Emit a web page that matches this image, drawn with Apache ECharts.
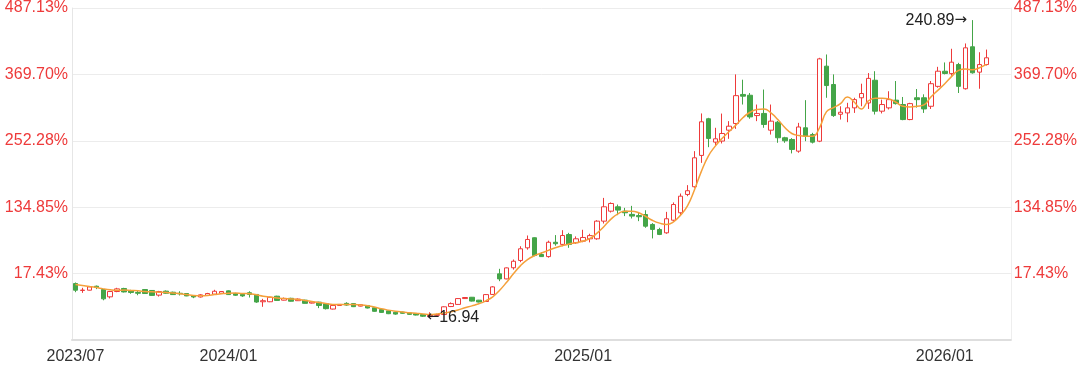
<!DOCTYPE html>
<html>
<head>
<meta charset="utf-8">
<style>
html,body{margin:0;padding:0;background:#fff;}
#c{width:1080px;height:370px;}
</style>
<script src="https://cdn.jsdelivr.net/npm/echarts/dist/echarts.min.js"></script>
</head>
<body>
<div id="c"></div>
<script>
// Weekly candles (date of week)
const categories = [
 '2023/07/28','2023/08/04','2023/08/11','2023/08/18','2023/08/25','2023/09/01','2023/09/08','2023/09/15','2023/09/22','2023/09/28',
 '2023/10/13','2023/10/20','2023/10/27','2023/11/03','2023/11/10','2023/11/17','2023/11/24','2023/12/01','2023/12/08','2023/12/15',
 '2023/12/22','2023/12/29',
 '2024/01/05','2024/01/12','2024/01/19','2024/01/26','2024/02/02','2024/02/08','2024/02/23','2024/03/01','2024/03/08','2024/03/15',
 '2024/03/22','2024/03/29','2024/04/03','2024/04/12','2024/04/19','2024/04/26','2024/04/30','2024/05/10','2024/05/17','2024/05/24',
 '2024/05/31','2024/06/07','2024/06/14','2024/06/21','2024/06/28','2024/07/05','2024/07/12','2024/07/19','2024/07/26','2024/08/02',
 '2024/08/09','2024/08/16','2024/08/23','2024/08/30','2024/09/06','2024/09/13','2024/09/20','2024/09/27','2024/09/30','2024/10/11',
 '2024/10/18','2024/10/25','2024/11/01','2024/11/08','2024/11/15','2024/11/22','2024/11/29','2024/12/06','2024/12/13','2024/12/20',
 '2024/12/27',
 '2025/01/03','2025/01/10','2025/01/17','2025/01/24','2025/01/31','2025/02/07','2025/02/14','2025/02/21','2025/02/28','2025/03/07',
 '2025/03/14','2025/03/21','2025/03/28','2025/04/04','2025/04/11','2025/04/18','2025/04/25','2025/05/02','2025/05/09','2025/05/16',
 '2025/05/23','2025/05/30','2025/06/06','2025/06/13','2025/06/20','2025/06/27','2025/07/04','2025/07/11','2025/07/18','2025/07/25',
 '2025/08/01','2025/08/08','2025/08/15','2025/08/22','2025/08/29','2025/09/05','2025/09/12','2025/09/19','2025/09/26','2025/10/03',
 '2025/10/10','2025/10/17','2025/10/24','2025/10/31','2025/11/07','2025/11/14','2025/11/21','2025/11/28','2025/12/05','2025/12/12',
 '2025/12/19','2025/12/26',
 '2026/01/02','2026/01/09','2026/01/16','2026/01/23','2026/01/30','2026/02/06','2026/02/13',
 '2026/02/20','2026/02/27','2026/03/06'
];
const xLabelIndex = [0, 22, 73, 125];

const opens = [
 42.5,37.3,37.5,40.5,38.0,32.5,36.5,38.8,37.2,35.8, 38.0,37.3,33.8,36.8,36.0,35.2,35.0,33.4,32.4,33.6,
 34.5,35.2,37.0,35.0,34.4,35.6,34.3,28.8,28.8,33.0, 30.0,31.4,29.6,30.0,27.8,28.5,27.3,23.3,26.0,27.6,
 27.4,25.5,26.0,24.3,23.0,22.0,20.9,21.0,20.4,19.9, 19.2,17.6,18.6,19.2,25.2,26.8,31.2,32.2,30.0,29.0,
 34.3,49.8,46.0,54.4,59.9,69.4,77.0,64.4,62.8,73.6, 72.0,79.4,73.2,74.4,76.2,76.2,89.5,97.0,100.3,97.0,
 94.6,93.7,94.5,87.0,83.2,80.7,90.2,95.8,109.6,115.4, 139.0,166.6,149.0,149.8,158.0,163.0,184.9,184.3,169.0,170.6,
 158.0,164.0,152.3,151.0,142.2,159.8,154.7,149.7,206.2,192.4, 170.0,171.0,174.8,182.4,178.5,195.6,172.3,174.8,180.6,177.3,
 166.0,182.4,182.4,176.0,191.0,202.4,200.6,207.4,189.2,220.8, 201.7,207.4
];
const closes = [
 37.5,37.6,40.0,39.6,31.0,36.5,38.5,36.2,35.8,35.2, 35.0,33.6,36.5,35.2,34.2,34.8,33.2,32.4,34.0,35.0,
 36.7,36.5,34.2,33.7,33.2,34.3,28.6,29.6,32.2,29.8, 31.3,29.2,30.8,27.6,28.6,26.0,23.6,26.0,26.8,26.3,
 25.1,26.6,24.1,21.6,20.8,19.8,19.5,20.1,19.3,18.8, 17.9,18.6,19.2,25.0,27.4,31.2,32.0,29.3,28.6,34.2,
 40.0,46.0,54.3,59.3,68.7,75.7,63.6,62.8,73.6,72.5, 78.7,72.0,76.2,77.2,78.6,89.5,100.3,102.8,97.8,95.8,
 93.3,92.8,85.7,83.3,79.5,91.3,102.0,108.3,112.4,137.2, 164.3,151.8,151.5,155.5,161.0,184.0,183.6,168.0,170.6,162.3,
 164.8,152.3,150.0,143.5,160.4,153.5,149.0,211.7,191.6,169.0, 171.5,174.8,181.0,185.6,197.0,172.3,177.3,181.0,178.0,166.0,
 178.0,181.0,174.0,193.0,202.4,200.7,209.2,191.0,220.0,201.2, 207.4,212.5
];
const lows = [
 36.0,35.5,37.3,38.3,29.9,31.3,36.0,35.8,34.8,33.7, 34.8,33.3,32.7,34.8,33.9,33.5,33.0,31.5,32.0,33.3,
 34.3,34.8,34.0,33.2,32.5,32.0,28.0,25.0,28.5,29.5, 29.8,29.0,29.4,27.4,27.5,24.0,23.0,23.0,25.8,25.8,
 24.8,25.3,23.8,21.3,20.5,19.5,19.0,19.8,19.0,18.5, 17.4,16.94,18.2,19.0,24.8,26.5,31.0,29.0,28.3,28.8,
 34.0,44.3,45.8,53.0,58.6,68.0,63.0,62.5,62.0,71.0, 70.6,69.4,72.4,73.6,73.5,75.5,87.7,96.0,94.0,93.3,
 91.5,89.5,84.5,76.5,79.0,80.0,89.5,93.3,108.3,114.6, 133.4,145.2,146.7,148.0,151.5,159.0,177.3,166.6,164.8,159.8,
 154.7,148.5,148.5,140.5,141.0,149.7,148.0,149.0,182.4,168.0, 166.0,164.0,171.0,176.0,174.0,169.8,170.6,173.6,177.3,165.5,
 165.5,175.0,171.0,174.0,190.0,200.0,199.0,186.0,188.6,200.6, 189.2,206.7
];
const highs = [
 43.3,39.3,40.3,41.0,38.3,37.0,39.3,39.3,37.8,37.3, 38.3,37.6,37.0,37.3,36.4,36.7,35.3,33.8,34.5,35.5,
 37.8,36.8,37.3,35.5,35.0,36.7,34.6,31.0,32.5,33.3, 32.0,31.8,31.3,30.3,29.0,28.8,27.8,26.3,27.0,28.4,
 27.7,27.0,26.3,24.6,23.3,22.3,21.2,21.3,20.7,20.2, 19.5,20.9,19.8,25.3,28.3,31.5,32.3,32.4,30.2,34.6,
 40.5,53.6,54.6,60.6,70.6,78.7,77.3,66.0,74.8,79.0, 82.7,80.7,78.0,83.0,80.0,90.2,107.0,103.6,102.0,99.5,
 101.0,95.8,97.7,88.0,84.5,96.5,103.6,110.3,116.6,142.2, 170.6,167.3,159.8,170.5,164.8,200.0,196.0,186.0,177.3,188.6,
 177.3,165.0,153.0,152.0,163.5,180.6,156.0,212.5,215.0,200.0, 176.0,178.6,182.4,193.0,201.0,202.4,181.0,187.3,195.0,183.0,
 178.6,189.0,185.0,195.0,205.7,209.0,219.3,208.7,223.3,240.89, 216.7,218.7
];
const maLine = [
 41.8,41.0,40.3,39.5,38.5,37.8,37.5,37.6,37.3,37.0, 36.6,36.3,36.0,35.7,35.3,34.8,34.2,33.6,33.4,33.6,
 34.2,34.8,35.2,35.3,35.0,34.9,34.0,33.0,32.3,31.6, 31.2,30.9,30.5,29.8,29.0,28.2,27.5,26.8,26.7,26.8,
 26.7,26.4,25.8,24.8,23.5,22.5,21.7,21.1,20.6,20.1, 19.6,19.2,19.6,20.3,21.3,22.6,24.3,25.7,27.3,29.5,
 32.5,37.5,43.5,50.0,56.0,60.5,63.5,65.5,67.5,69.5, 71.0,72.3,73.3,74.5,76.5,80.5,85.5,91.0,95.0,97.0,
 97.0,95.8,93.0,90.0,88.0,87.0,89.0,94.0,101.0,113.0, 127.0,138.5,146.0,152.0,157.0,162.0,167.5,171.5,173.6,174.0,
 171.0,166.0,160.0,155.5,154.0,153.5,153.5,160.0,172.0,175.0, 178.0,183.0,179.0,174.0,180.0,182.0,182.0,181.5,179.0,176.0,
 175.5,176.0,177.0,183.0,188.0,193.0,198.5,203.0,204.0,203.5, 205.0,207.5
];
const yTickLabels = ['', '17.43%', '134.85%', '252.28%', '369.70%', '487.13%'];
const yStep = 50;

const candleData = opens.map((o, i) => [o, closes[i], lows[i], highs[i]]);
let minIdx = 0, maxIdx = 0;
lows.forEach((v, i) => { if (v < lows[minIdx]) minIdx = i; });
highs.forEach((v, i) => { if (v > highs[maxIdx]) maxIdx = i; });

const FONT = '"Liberation Sans", Arial, Helvetica, sans-serif';
const RED = '#ee3a3a';
const GREEN = '#44a548';

const yAxisBase = {
  type: 'value', min: 0, max: yStep * (yTickLabels.length - 1), interval: yStep,
  axisTick: { show: false },
  axisLabel: {
    color: RED, fontSize: 16, fontFamily: FONT,
    formatter: v => yTickLabels[Math.round(v / yStep)] || ''
  }
};

const markRich = {
  arr: { fontFamily: '"DejaVu Sans", sans-serif', fontSize: 15, color: '#222' },
  num: { fontFamily: FONT, fontSize: 16, color: '#222' }
};

const chart = echarts.init(document.getElementById('c'));
chart.setOption({
  animation: false,
  grid: { left: 72, right: 68, top: 8, bottom: 30 },
  xAxis: {
    type: 'category', data: categories, boundaryGap: true,
    axisLine: { lineStyle: { color: '#dedede', width: 2 } },
    axisTick: { show: false },
    splitLine: { show: false },
    axisLabel: {
      interval: (i) => xLabelIndex.includes(i),
      formatter: v => v.slice(0, 7),
      color: '#333', fontSize: 16, fontFamily: FONT, margin: 9
    }
  },
  yAxis: [
    Object.assign({}, yAxisBase, {
      position: 'left',
      axisLine: { show: true, lineStyle: { color: '#e6e6e6' } },
      axisLabel: Object.assign({}, yAxisBase.axisLabel, { margin: 4 }),
      splitLine: { show: true, lineStyle: { color: '#ececec' } }
    }),
    Object.assign({}, yAxisBase, {
      position: 'right',
      axisLine: { show: true, lineStyle: { color: '#eeeeee' } },
      axisLabel: Object.assign({}, yAxisBase.axisLabel, { margin: 3 }),
      splitLine: { show: false }
    })
  ],
  series: [
    {
      type: 'candlestick',
      data: candleData,
      barWidth: 5,
      itemStyle: {
        color: '#ffffff', borderColor: RED,
        color0: GREEN, borderColor0: GREEN,
        borderWidth: 1
      },
      markPoint: {
        symbol: 'circle', symbolSize: 1,
        itemStyle: { color: 'rgba(0,0,0,0)' },
        label: { color: '#222', fontSize: 16, fontFamily: FONT, rich: markRich },
        data: [
          {
            coord: [minIdx, lows[minIdx]],
            label: { position: 'right', distance: 0, offset: [-4, 0], formatter: '{arr|\u2190}{num|' + lows[minIdx].toFixed(2) + '}' }
          },
          {
            coord: [maxIdx, highs[maxIdx]],
            label: { position: 'left', distance: 5, offset: [0, 0], formatter: '{num|' + highs[maxIdx].toFixed(2) + '}{arr|\u2192}' }
          }
        ]
      }
    },
    {
      type: 'line',
      data: maLine,
      smooth: true,
      symbol: 'none',
      lineStyle: { color: '#f5a03a', width: 1.5 },
      z: 3
    }
  ]
});
</script>
</body>
</html>
